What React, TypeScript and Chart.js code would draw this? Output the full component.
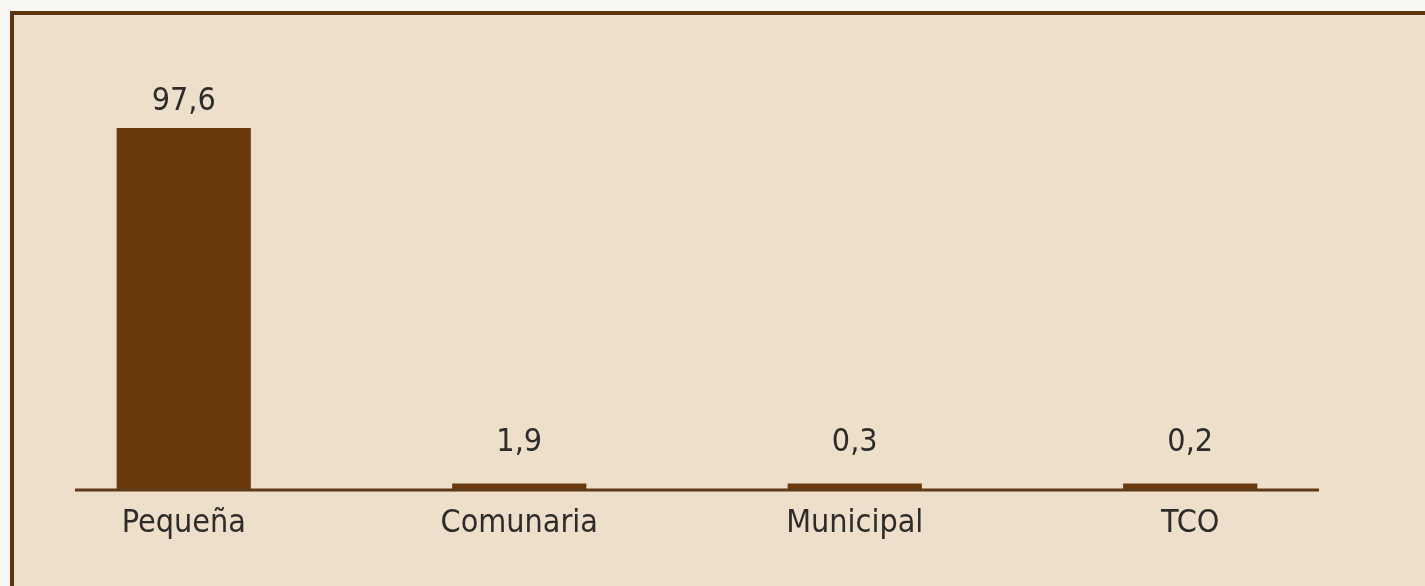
import React, { useEffect, useRef } from "react";
import { Chart, registerables } from "chart.js";

Chart.register(...registerables);

const categories: string[] = ["Pequeña", "Comunaria", "Municipal", "TCO"];
const values: number[] = [97.6, 1.9, 0.3, 0.2];
const valueLabels: string[] = ["97,6", "1,9", "0,3", "0,2"];

const FONT = "'Liberation Sans Narrow', 'Arial Narrow', 'DejaVu Sans Condensed', sans-serif";
const BAR = "#6A3A0C";
const AXIS = "#5E3A18";
const TEXT = "#2E2C2A";

const decorPlugin = {
  id: "decor",
  afterDatasetsDraw(chart: any) {
    const { ctx, chartArea, scales } = chart;
    const y0 = scales.y.getPixelForValue(0);
    ctx.save();
    ctx.strokeStyle = AXIS;
    ctx.lineWidth = 3;
    ctx.beginPath();
    ctx.moveTo(chartArea.left + 59, y0 - 0.5);
    ctx.lineTo(chartArea.right - 39, y0 - 0.5);
    ctx.stroke();

    const meta = chart.getDatasetMeta(0);
    ctx.fillStyle = TEXT;
    ctx.font = `32px ${FONT}`;
    ctx.textAlign = "center";
    ctx.textBaseline = "alphabetic";
    meta.data.forEach((bar: any, i: number) => {
      const yText = Math.min(bar.y - 18, y0 - 40);
      ctx.fillText(valueLabels[i], bar.x, yText);
    });
    ctx.restore();
  },
};

export default function App() {
  const ref = useRef<HTMLCanvasElement>(null);

  useEffect(() => {
    if (!ref.current) return;
    const chart = new Chart(ref.current, {
      type: "bar",
      data: {
        labels: categories,
        datasets: [
          {
            data: values,
            backgroundColor: BAR,
            borderWidth: 0,
            barPercentage: 0.4,
            categoryPercentage: 1,
            minBarLength: 7,
          },
        ],
      },
      options: {
        animation: false,
        responsive: true,
        maintainAspectRatio: false,
        layout: { padding: { left: 2, right: 67, top: 104, bottom: 29 } },
        plugins: { legend: { display: false }, tooltip: { enabled: false } },
        scales: {
          x: {
            grid: { display: false, drawTicks: false },
            border: { display: false },
            ticks: {
              color: TEXT,
              font: { family: FONT, size: 32 },
              padding: 14,
              maxRotation: 0,
              autoSkip: false,
            },
          },
          y: {
            display: false,
            min: 0,
            max: 100,
          },
        },
      },
      plugins: [decorPlugin],
    });
    return () => chart.destroy();
  }, []);

  return (
    <div style={{ position: "fixed", inset: 0, background: "#F8F7F3", overflow: "hidden" }}>
      <div
        style={{
          position: "absolute",
          left: 10,
          top: 11,
          width: 1415,
          height: 575,
          borderTop: "4px solid #5B3510",
          borderLeft: "4px solid #5B3510",
          background: "#EDDFCA",
        }}
      >
        <div style={{ position: "relative", width: 1411, height: 571 }}>
          <canvas ref={ref} />
        </div>
      </div>
    </div>
  );
}
